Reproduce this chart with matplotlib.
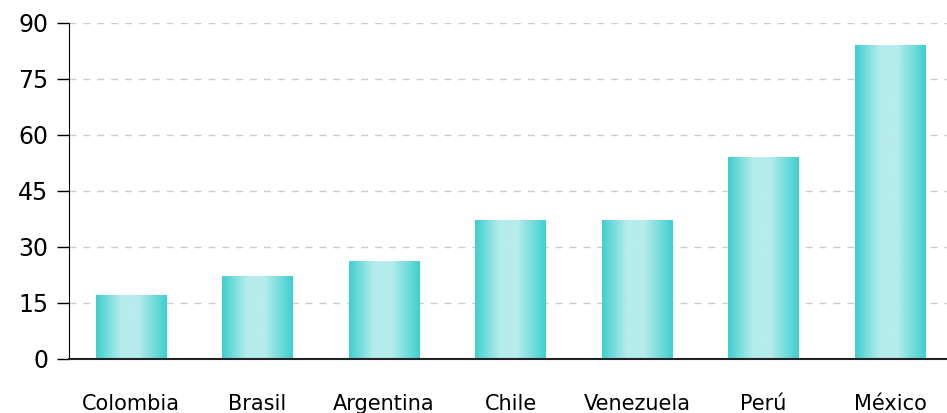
import matplotlib
matplotlib.use("Agg")
import matplotlib.pyplot as plt
import numpy as np
from matplotlib.colors import LinearSegmentedColormap

countries = ["Colombia", "Brasil", "Argentina", "Chile", "Venezuela", "Perú", "México"]
values = [17, 22, 26, 37, 37, 54, 84]
yticks = [0, 15, 30, 45, 60, 75, 90]

BAR_W = 0.56
grad = LinearSegmentedColormap.from_list(
    "teal", [(0.0, "#3ECFCF"), (0.35, "#B6ECEC"), (0.6, "#B6ECEC"), (1.0, "#3ECFCF")])

fig = plt.figure(figsize=(9.47, 4.13), dpi=100)
ax = fig.add_axes([69 / 947, 54 / 413, 878 / 947, 336 / 413])

strip = np.linspace(0, 1, 256).reshape(1, -1)
for i, v in enumerate(values):
    ax.imshow(strip, cmap=grad, aspect="auto", interpolation="bilinear",
              extent=(i - BAR_W / 2, i + BAR_W / 2, 0, v), zorder=2)

ax.set_xlim(-0.49, 6.45)
ax.set_ylim(0, 90)
ax.set_yticks(yticks)
ax.set_xticks(range(len(countries)))
ax.set_xticklabels(countries, fontsize=15)
ax.tick_params(axis="x", length=0, pad=25)
ax.tick_params(axis="y", length=9, width=1, labelsize=17, pad=6)
ax.yaxis.grid(True, linestyle=(0, (5, 5)), color="#CCCCCC", linewidth=1, zorder=0)
ax.set_axisbelow(True)

for s in ["top", "right"]:
    ax.spines[s].set_visible(False)
ax.spines["left"].set_color("black")
ax.spines["bottom"].set_color("#222222")
ax.spines["bottom"].set_linewidth(1.5)
ax.spines["bottom"].set_zorder(3)

fig.savefig("out.png", dpi=100)
